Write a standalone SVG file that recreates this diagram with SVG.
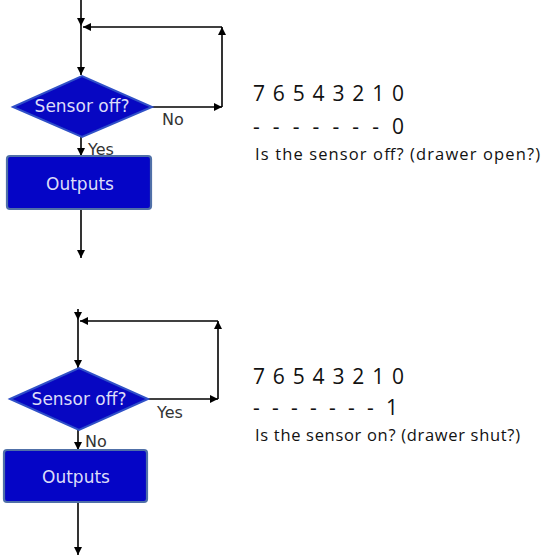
<svg xmlns="http://www.w3.org/2000/svg" width="543" height="556" viewBox="0 0 543 556">
<style>
.bg{fill:#ffffff}
.ln{stroke:#000;stroke-width:1.6;fill:none}
.dia{fill:#0707c2;stroke:#3050c8;stroke-width:2}
.box{fill:#0505c6;stroke:#5070a8;stroke-width:2.2}
.nt{font-family:"DejaVu Sans",Verdana,sans-serif;font-size:17px;fill:#dcdcf8;text-anchor:middle}
.lb{font-family:"DejaVu Sans",Verdana,sans-serif;font-size:16px;fill:#333}
.big{font-family:"Open Sans","Liberation Sans",sans-serif;font-size:21px;fill:#111}
.sm{font-family:"Open Sans","Liberation Sans",sans-serif;font-size:16.5px;fill:#111}
</style>
<defs>
<marker id="ah" viewBox="0 0 10 10" refX="10" refY="5" markerWidth="8" markerHeight="8" markerUnits="userSpaceOnUse" orient="auto">
<path d="M0,0 L10,5 L0,10 z" fill="#000"/>
</marker>
</defs>
<rect class="bg" x="0" y="0" width="543" height="556"/>
<g id="connectors">
<line class="ln" x1="81" y1="0" x2="81" y2="26" marker-end="url(#ah)"/>
<line class="ln" x1="81" y1="26" x2="81" y2="75" marker-end="url(#ah)"/>
<line class="ln" x1="152" y1="107" x2="222" y2="107" marker-end="url(#ah)"/>
<line class="ln" x1="222" y1="107" x2="222" y2="27" marker-end="url(#ah)"/>
<line class="ln" x1="222" y1="27" x2="83" y2="27" marker-end="url(#ah)"/>
<line class="ln" x1="81" y1="137" x2="81" y2="156" marker-end="url(#ah)"/>
<line class="ln" x1="81" y1="209" x2="81" y2="258" marker-end="url(#ah)"/>
<line class="ln" x1="78" y1="309" x2="78" y2="320" marker-end="url(#ah)"/>
<line class="ln" x1="78" y1="320" x2="78" y2="368" marker-end="url(#ah)"/>
<line class="ln" x1="148" y1="399" x2="218" y2="399" marker-end="url(#ah)"/>
<line class="ln" x1="218" y1="399" x2="218" y2="321" marker-end="url(#ah)"/>
<line class="ln" x1="218" y1="321" x2="80" y2="321" marker-end="url(#ah)"/>
<line class="ln" x1="78" y1="430" x2="78" y2="450" marker-end="url(#ah)"/>
<line class="ln" x1="78" y1="502" x2="78" y2="555" marker-end="url(#ah)"/>
</g>
<g id="decision1">
<polygon class="dia" points="13,107 82,76 152,107 82,137"/>
<text class="nt" x="82" y="112">Sensor off?</text>
</g>
<g id="outputs1">
<rect class="box" x="7" y="156" width="144" height="53" rx="3"/>
<text class="nt" x="80" y="190">Outputs</text>
</g>
<g id="decision2">
<polygon class="dia" points="10,399 79,368 148,399 79,430"/>
<text class="nt" x="79" y="405">Sensor off?</text>
</g>
<g id="outputs2">
<rect class="box" x="4" y="450" width="143" height="52" rx="3"/>
<text class="nt" x="76" y="483">Outputs</text>
</g>
<g id="labels">
<text class="lb" x="162" y="125">No</text>
<text class="lb" x="88" y="155">Yes</text>
<text class="lb" x="157" y="418">Yes</text>
<text class="lb" x="85" y="447">No</text>
</g>
<g id="notes">
<text class="big" x="253" y="101" textLength="151" lengthAdjust="spacing">7 6 5 4 3 2 1 0</text>
<text class="big" x="253" y="134" textLength="151" lengthAdjust="spacing">- - - - - - - 0</text>
<text class="sm" x="255" y="160" textLength="285" lengthAdjust="spacing">Is the sensor off? (drawer open?)</text>
<text class="big" x="253" y="384" textLength="151" lengthAdjust="spacing">7 6 5 4 3 2 1 0</text>
<text class="big" x="253" y="415" textLength="145" lengthAdjust="spacing">- - - - - - - 1</text>
<text class="sm" x="255" y="441" textLength="265" lengthAdjust="spacing">Is the sensor on? (drawer shut?)</text>
</g>
</svg>
